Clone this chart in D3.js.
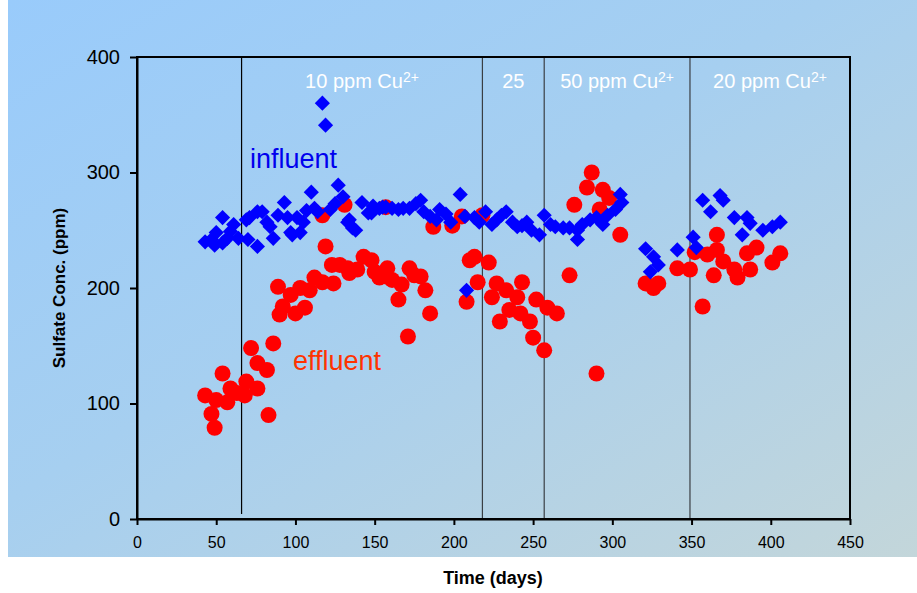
<!DOCTYPE html>
<html>
<head>
<meta charset="utf-8">
<script src="https://cdn.jsdelivr.net/npm/d3@7"></script>
<style>
  body { margin: 0; background: #ffffff; }
  text { font-family: "Liberation Sans", Arial, sans-serif; }
</style>
</head>
<body>
<div id="chart"></div>
<script>
// influent (blue diamonds): day, sulfate ppm
var influentDays = [43, 47, 49, 50, 54, 54, 57, 59, 61, 64, 69, 70, 71, 76, 76, 79, 82, 84, 86, 89,
  93, 95, 97, 98, 101, 103, 105, 107, 110, 112, 114, 117, 119, 122, 125, 127, 130, 133, 134, 136,
  138, 142, 146, 148, 149, 153, 155, 157, 161, 165, 168, 172, 176, 179, 181, 185, 189, 191, 195, 198,
  204, 207, 208, 213, 216, 220, 224, 227, 230, 233, 237, 240, 243, 246, 249, 254, 257, 261, 264, 269,
  273, 278, 278, 281, 286, 290, 294, 297, 302, 305, 306, 321, 324, 326, 329, 341, 351, 353, 357, 362,
  368, 370, 377, 382, 385, 387, 395, 401, 406];
var influentVals = [240, 242, 237, 248, 261, 239, 243, 249, 255, 243, 259, 242, 261, 266, 236, 266, 257, 253, 243, 263,
  274, 261, 248, 246, 261, 248, 257, 267, 283, 269, 266, 360, 341, 268, 273, 289, 279, 257, 259, 252,
  250, 274, 265, 265, 271, 269, 270, 270, 269, 268, 269, 269, 273, 276, 266, 262, 259, 268, 264, 257,
  281, 262, 198, 261, 257, 266, 255, 259, 263, 266, 257, 253, 254, 257, 250, 246, 263, 255, 253, 252,
  252, 250, 242, 255, 259, 261, 255, 263, 268, 281, 274, 234, 214, 227, 220, 233, 244, 235, 276, 266,
  280, 276, 261, 246, 261, 256, 250, 253, 257];

// effluent (red circles): day, sulfate ppm
var effluentDays = [43, 47, 49, 50, 54, 57, 59, 63, 68, 69, 72, 76, 76, 82, 83, 86, 89, 90, 92, 97,
  100, 103, 106, 109, 112, 117, 117, 119, 123, 124, 128, 131, 133, 134, 139, 143, 148, 150, 153, 157,
  157, 158, 161, 165, 167, 171, 172, 175, 179, 182, 185, 187, 199, 205, 208, 210, 213, 215, 218, 222,
  224, 227, 229, 233, 235, 240, 242, 243, 248, 250, 252, 257, 259, 265, 273, 276, 284, 287, 290, 292,
  294, 298, 305, 321, 326, 329, 341, 349, 352, 357, 360, 364, 366, 366, 370, 377, 379, 385, 387, 391,
  401, 406];
var effluentVals = [107, 91, 79, 103, 126, 101, 113, 109, 107, 119, 148, 135, 113, 129, 90, 152, 201, 177, 184, 194,
  178, 200, 183, 198, 209, 205, 263, 236, 220, 204, 220, 272, 217, 213, 216, 227, 224, 214, 209, 210,
  270, 217, 207, 190, 203, 158, 217, 211, 210, 198, 178, 253, 254, 262, 188, 224, 227, 205, 263, 222,
  192, 204, 171, 198, 181, 192, 178, 205, 171, 157, 190, 146, 183, 178, 211, 272, 287, 300, 126, 268,
  285, 278, 246, 204, 200, 204, 217, 216, 231, 184, 229, 211, 233, 246, 223, 216, 209, 230, 216, 235,
  222, 230];

// copper dosing phases: boundary days and labels
var phaseBounds = [66, 218, 257, 349, 450];
var phaseLabels = ["10 ppm Cu", "25", "50 ppm Cu", "20 ppm Cu"];
var phaseSup = ["2+", "", "2+", "2+"];

var xTicks = [0, 50, 100, 150, 200, 250, 300, 350, 400, 450];
var yTicks = [0, 100, 200, 300, 400];

var width = 917, height = 593;
var margin = { left: 137, right: 67, top: 57, bottom: 74 };

var svg = d3.select("#chart").append("svg")
  .attr("width", width)
  .attr("height", height);

var defs = svg.append("defs");
var grad = defs.append("linearGradient")
  .attr("id", "bg")
  .attr("x1", "0%").attr("y1", "0%")
  .attr("x2", "100%").attr("y2", "100%");
grad.append("stop").attr("offset", "0%").attr("stop-color", "#99cbfb");
grad.append("stop").attr("offset", "45%").attr("stop-color", "#a6cff0");
grad.append("stop").attr("offset", "100%").attr("stop-color", "#c3d6da");

svg.append("rect")
  .attr("x", 8).attr("y", 0)
  .attr("width", width - 8).attr("height", 557)
  .attr("fill", "url(#bg)");

var x = d3.scaleLinear().domain([0, 450]).range([margin.left, width - margin.right]);
var y = d3.scaleLinear().domain([0, 400]).range([519, margin.top]);

var plotW = x(450) - x(0), plotH = y(0) - y(400);

// phase separators
svg.append("g").selectAll("line")
  .data(phaseBounds.slice(0, 4))
  .enter().append("line")
  .attr("x1", function (d) { return x(d); })
  .attr("x2", function (d) { return x(d); })
  .attr("y1", y(400))
  .attr("y2", function (d, i) { return i === 0 ? y(0) - 5 : y(0); })
  .style("stroke", function (d, i) { return i === 0 ? "#000" : "#3a3f44"; })
  .style("stroke-width", 1.2);

// phase labels
var lab = svg.append("g").selectAll("text")
  .data(phaseLabels)
  .enter().append("text")
  .attr("x", function (d, i) { return x((phaseBounds[i] + phaseBounds[i + 1]) / 2); })
  .attr("y", 88)
  .attr("text-anchor", "middle")
  .style("fill", "#ffffff")
  .style("font-size", "20px");
lab.append("tspan").text(function (d) { return d; });
lab.append("tspan")
  .attr("dy", "-0.45em")
  .style("font-size", "14px")
  .text(function (d, i) { return phaseSup[i]; });

// effluent circles
svg.append("g").selectAll("circle")
  .data(effluentDays)
  .enter().append("circle")
  .attr("cx", function (d) { return x(d); })
  .attr("cy", function (d, i) { return y(effluentVals[i]); })
  .attr("r", 8)
  .style("fill", "#ff0000");

// influent diamonds
var diamond = d3.symbol().type(d3.symbolSquare).size(115);
svg.append("g").selectAll("path")
  .data(influentDays)
  .enter().append("path")
  .attr("d", diamond)
  .attr("transform", function (d, i) { return "translate(" + x(d) + "," + y(influentVals[i]) + ") rotate(45)"; })
  .style("fill", "#0000ff");

// series labels
svg.append("text")
  .attr("x", 250).attr("y", 168)
  .style("font-size", "27px")
  .style("fill", "#0000ee")
  .text("influent");
svg.append("text")
  .attr("x", 293).attr("y", 370)
  .style("font-size", "27px")
  .style("fill", "#ff3300")
  .text("effluent");

// frame
svg.append("rect")
  .attr("x", x(0)).attr("y", y(400))
  .attr("width", plotW).attr("height", plotH)
  .style("fill", "none")
  .style("stroke", "#000")
  .style("stroke-width", 2);

// axes
var xAxis = svg.append("g")
  .attr("transform", "translate(0," + y(0) + ")")
  .call(d3.axisBottom(x).tickValues(xTicks).tickSize(6).tickSizeOuter(0));
var yAxis = svg.append("g")
  .attr("transform", "translate(" + x(0) + ",0)")
  .call(d3.axisLeft(y).tickValues(yTicks).tickSize(7).tickSizeOuter(0));

[xAxis, yAxis].forEach(function (a) {
  a.select(".domain").style("stroke", "#000").style("stroke-width", 2);
  a.selectAll(".tick line").style("stroke", "#000").style("stroke-width", 2);
  a.selectAll(".tick text")
    .style("font-family", "'Liberation Sans', Arial, sans-serif")
    .style("fill", "#000");
});
xAxis.selectAll(".tick text").attr("dy", "1.25em").style("font-size", "16px");
yAxis.selectAll(".tick text").attr("x", -17).style("font-size", "20px");

// axis titles
svg.append("text")
  .attr("x", 493).attr("y", 584)
  .attr("text-anchor", "middle")
  .style("font-size", "18px")
  .style("font-weight", "bold")
  .text("Time (days)");
svg.append("text")
  .attr("transform", "translate(65," + (y(200)) + ") rotate(-90)")
  .attr("text-anchor", "middle")
  .style("font-size", "17px")
  .style("font-weight", "bold")
  .text("Sulfate Conc. (ppm)");
</script>
</body>
</html>
